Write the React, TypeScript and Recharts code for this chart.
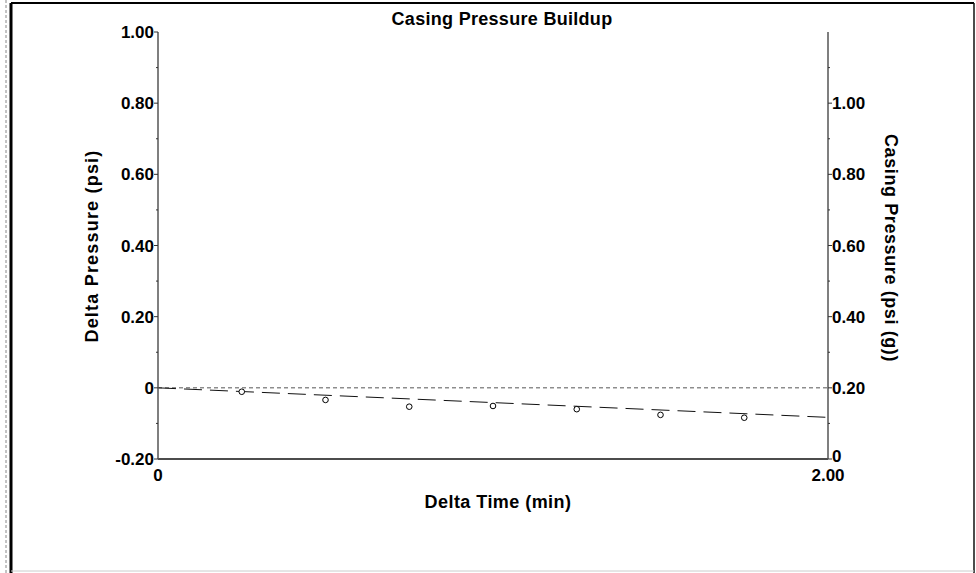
import React from 'react';
import { ComposedChart, XAxis, YAxis, Scatter, Line, ReferenceLine, Customized } from 'recharts';

const deltaTimes = [0.25, 0.5, 0.75, 1.0, 1.25, 1.5, 1.75];
const deltaPressures = [-0.011, -0.034, -0.053, -0.051, -0.06, -0.076, -0.084];
const fitTimes = [0, 2.0];
const fitPressures = [0, -0.083];
const leftTicks = [-0.2, -0.1, 0, 0.1, 0.2, 0.3, 0.4, 0.5, 0.6, 0.7, 0.8, 0.9, 1.0];
const rightTicks = [0, 0.1, 0.2, 0.3, 0.4, 0.5, 0.6, 0.7, 0.8, 0.9, 1.0, 1.1];
const xTicks = [0, 2];

const TITLE = 'Casing Pressure Buildup';
const X_LABEL = 'Delta Time (min)';
const LEFT_LABEL = 'Delta Pressure (psi)';
const RIGHT_LABEL = 'Casing Pressure (psi (g))';

const points = deltaTimes.map((t, i) => ({ t, dp: deltaPressures[i] }));
const fit = fitTimes.map((t, i) => ({ t, fit: fitPressures[i] }));

const FONT = '"Liberation Sans", Arial, sans-serif';

const isMajor = (v: number) => Math.round(v * 10) % 2 === 0;
const fmt = (v: number) => (Math.abs(v) < 1e-9 ? '0' : v.toFixed(2));

const LeftTick = (props: any) => {
  const { x, y, payload } = props;
  const v = payload.value;
  const major = isMajor(v);
  return (
    <g>
      <line x1={x - (major ? 4 : 2)} x2={x} y1={y} y2={y} stroke="#333" strokeWidth={1} />
      {major && (
        <text x={x - 4} y={y + 6} textAnchor="end" fontFamily={FONT} fontWeight="bold" fontSize={17} fill="#000">
          {fmt(v)}
        </text>
      )}
    </g>
  );
};

const RightTick = (props: any) => {
  const { x, y, payload } = props;
  const v = payload.value;
  const major = isMajor(v);
  const isZero = Math.abs(v) < 1e-9;
  return (
    <g>
      <line x1={x} x2={x + (major ? 4 : 2)} y1={y} y2={y} stroke="#333" strokeWidth={1} />
      {major && (
        <text
          x={x + 4}
          y={y + (isZero ? 3 : 6)}
          textAnchor="start"
          fontFamily={FONT}
          fontWeight="bold"
          fontSize={17}
          fill="#000"
        >
          {fmt(v)}
        </text>
      )}
    </g>
  );
};

const XTick = (props: any) => {
  const { x, y, payload } = props;
  return (
    <text x={x} y={y + 22} textAnchor="middle" fontFamily={FONT} fontWeight="bold" fontSize={17} fill="#000">
      {fmt(payload.value)}
    </text>
  );
};

const Decor = () => (
  <g>
    <line x1={11} x2={11} y1={3} y2={573} stroke="#000" strokeWidth={3} />
    <line x1={6} x2={6} y1={0} y2={573} stroke="#888" strokeWidth={1} strokeDasharray="3 2" />
    <line x1={11} x2={974} y1={3} y2={3} stroke="#000" strokeWidth={2} />
    <line x1={974} x2={974} y1={3} y2={573} stroke="#111" strokeWidth={1.5} />
    <line x1={11} x2={974} y1={571} y2={571} stroke="#ccc" strokeWidth={1} />
    <text x={502} y={25} textAnchor="middle" fontFamily={FONT} fontWeight="bold" fontSize={18} letterSpacing={0.3} fill="#000">
      {TITLE}
    </text>
    <text x={498} y={508} textAnchor="middle" fontFamily={FONT} fontWeight="bold" fontSize={18} letterSpacing={0.45} fill="#000">
      {X_LABEL}
    </text>
    <text
      x={98}
      y={246}
      textAnchor="middle"
      transform="rotate(-90 98 246)"
      fontFamily={FONT}
      fontWeight="bold"
      fontSize={18}
      letterSpacing={1.2}
      fill="#000"
    >
      {LEFT_LABEL}
    </text>
    <text
      x={885}
      y={248}
      textAnchor="middle"
      transform="rotate(90 885 248)"
      fontFamily={FONT}
      fontWeight="bold"
      fontSize={18}
      letterSpacing={0.6}
      fill="#000"
    >
      {RIGHT_LABEL}
    </text>
  </g>
);

export default function App() {
  return (
    <div style={{ position: 'absolute', left: 0, top: 0, width: 976, height: 573, background: '#fff' }}>
      <ComposedChart width={976} height={573} margin={{ top: 32, right: 0, bottom: 0, left: 0 }}>
        <XAxis
          dataKey="t"
          type="number"
          domain={[0, 2]}
          ticks={xTicks}
          allowDataOverflow
          height={114}
          tickSize={0}
          tickMargin={0}
          tickLine={false}
          axisLine={{ stroke: '#111', strokeWidth: 1.5 }}
          tick={<XTick />}
        />
        <YAxis
          yAxisId="left"
          type="number"
          domain={[-0.2, 1.0]}
          ticks={leftTicks}
          allowDataOverflow
          width={158}
          tickSize={0}
          tickMargin={0}
          tickLine={false}
          interval={0}
          axisLine={{ stroke: '#555', strokeWidth: 1.5 }}
          tick={<LeftTick />}
        />
        <YAxis
          yAxisId="right"
          orientation="right"
          type="number"
          domain={[0, 1.2]}
          ticks={rightTicks}
          allowDataOverflow
          width={148}
          tickSize={0}
          tickMargin={0}
          tickLine={false}
          interval={0}
          axisLine={{ stroke: '#555', strokeWidth: 1.5 }}
          tick={<RightTick />}
        />
        <ReferenceLine yAxisId="left" y={0} stroke="#555" strokeWidth={1} strokeDasharray="4 3" />
        <Line
          yAxisId="left"
          data={fit}
          dataKey="fit"
          type="linear"
          stroke="#111"
          strokeWidth={1}
          strokeDasharray="18 8"
          dot={false}
          activeDot={false}
          isAnimationActive={false}
        />
        <Scatter
          yAxisId="left"
          data={points}
          dataKey="dp"
          isAnimationActive={false}
          shape={(p: any) => <circle cx={p.cx} cy={p.cy} r={2.8} fill="#fff" stroke="#000" strokeWidth={1} />}
        />
        <Customized component={Decor} />
      </ComposedChart>
    </div>
  );
}
